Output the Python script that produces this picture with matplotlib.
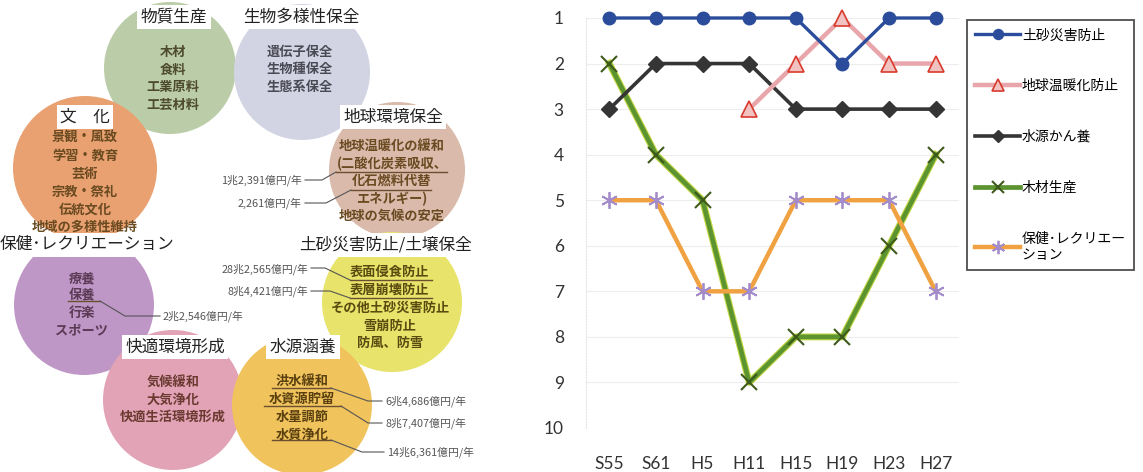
import numpy as np
import matplotlib
matplotlib.use("Agg")
import matplotlib.pyplot as plt
from matplotlib.patches import Circle

plt.rcParams["font.family"] = ["Noto Sans CJK JP", "DejaVu Sans"]

# ---- left diagram: forest functions ----
func_titles = ["物質生産", "生物多様性保全", "文　化", "地球環境保全",
               "保健･レクリエーション", "土砂災害防止/土壌保全", "快適環境形成", "水源涵養"]
func_items = [
    ["木材", "食料", "工業原料", "工芸材料"],
    ["遺伝子保全", "生物種保全", "生態系保全"],
    ["景観・風致", "学習・教育", "芸術", "宗教・祭礼", "伝統文化", "地域の多様性維持"],
    ["地球温暖化の緩和", "(二酸化炭素吸収、", "化石燃料代替", "エネルギー)", "地球の気候の安定"],
    ["療養", "保養", "行楽", "スポーツ"],
    ["表面侵食防止", "表層崩壊防止", "その他土砂災害防止", "雪崩防止", "防風、防雪"],
    ["気候緩和", "大気浄化", "快適生活環境形成"],
    ["洪水緩和", "水資源貯留", "水量調節", "水質浄化"],
]
values = ["1兆2,391億円/年", "2,261億円/年", "28兆2,565億円/年", "8兆4,421億円/年",
          "2兆2,546億円/年", "6兆4,686億円/年", "8兆7,407億円/年", "14兆6,361億円/年"]

# ---- right chart: ranking ----
years = ["S55", "S61", "H5", "H11", "H15", "H19", "H23", "H27"]
series_names = ["土砂災害防止", "地球温暖化防止", "水源かん養", "木材生産", "保健･レクリエー\nション"]
rank_sabo = [1, 1, 1, 1, 1, 2, 1, 1]
rank_ondanka = [np.nan, np.nan, np.nan, 3, 2, 1, 2, 2]
rank_suigen = [3, 2, 2, 2, 3, 3, 3, 3]
rank_mokuzai = [2, 4, 5, 9, 8, 8, 6, 4]
rank_hoken = [5, 5, 7, 7, 5, 5, 5, 7]

fig = plt.figure(figsize=(11.43, 4.72), dpi=100)

# left panel in pixel coordinates
ax0 = fig.add_axes([0, 0, 480 / 1143, 1])
ax0.set_xlim(0, 480)
ax0.set_ylim(472, 0)
ax0.axis("off")

circle_xy = [(170, 68), (302, 72), (85, 168), (397, 170),
             (84, 305), (392, 302), (173, 400), (302, 405)]
circle_r = [66, 68, 72, 68, 70, 70, 70, 70]
circle_col = ["#BACDA8", "#D3D4E3", "#E9A171", "#D9BAAB",
              "#BE97C6", "#E8E36A", "#E2A3B6", "#F0C35C"]
draw_order = [0, 2, 1, 3, 4, 5, 6, 7]
for i in draw_order:
    ax0.add_patch(Circle(circle_xy[i], circle_r[i], color=circle_col[i], lw=0, zorder=1))

title_xy = [(174, 17), (301, 17), (85, 117), (393, 117),
            (87, 245), (385, 245), (175, 347), (303, 347)]
for t, (x, y) in zip(func_titles, title_xy):
    ax0.text(x, y, t, fontsize=12, ha="center", va="center", color="#222222", zorder=4,
             bbox=dict(boxstyle="square,pad=0.2", fc="white", ec="none"))

item_start = [(173, 52), (300, 52), (85, 138), (392, 146),
              (82, 278), (390, 272), (173, 382), (302, 381)]
item_step = [17.5, 17.5, 17.8, 17.5, 17.5, 17.8, 17.5, 17.8]
item_col = ["#4E4A2E", "#4A4A55", "#6A4A20", "#6A4A20",
            "#5A3A55", "#5A4A10", "#6A3A30", "#5A4010"]
for items, (x, y), s, c in zip(func_items, item_start, item_step, item_col):
    for k, it in enumerate(items):
        ax0.text(x, y + k * s, it, fontsize=9.5, fontweight="bold", ha="center",
                 va="center", color=c, zorder=4)

value_xy = [(302, 180), (302, 203), (308, 269), (308, 291),
            (163, 316), (385, 401), (385, 423), (387, 452)]
value_ha = ["right", "right", "right", "right", "left", "left", "left", "left"]
for v, (x, y), ha in zip(values, value_xy, value_ha):
    ax0.text(x, y, v, fontsize=7.8, ha=ha, va="center", color="#555555", zorder=4)

# underlines and leader lines
underlines = [((336, 447), 172), ((351, 431), 190), ((350, 432), 280), ((350, 432), 298),
              ((68, 100), 301), ((272, 331), 388), ((264, 341), 406), ((272, 331), 440)]
for (x0, x1), y in underlines:
    ax0.plot([x0, x1], [y, y], color="#6A5030", lw=1.0, zorder=5)
leaders = [[(305, 180), (322, 180), (336, 172)],
           [(305, 203), (326, 203), (351, 190)],
           [(311, 268), (325, 268), (350, 280)],
           [(311, 291), (330, 291), (350, 298)],
           [(100, 301), (125, 316), (160, 316)],
           [(331, 388), (368, 401), (382, 401)],
           [(341, 406), (368, 423), (382, 423)],
           [(331, 440), (362, 452), (384, 452)]]
for pts in leaders:
    xs, ys = zip(*pts)
    ax0.plot(xs, ys, color="#555555", lw=0.8, zorder=5)

# ---- ranking chart ----
ax = fig.add_axes([586 / 1143, 1 - 428 / 472, (959 - 586) / 1143, (428 - 18) / 472])
x = np.arange(len(years))

ax.plot(x, rank_sabo, color="#2B4C9B", lw=2.4, marker="o", ms=9,
        mfc="#2B4C9B", mec="#2B4C9B", clip_on=False, zorder=6, label=series_names[0])
ax.plot(x, rank_ondanka, color="#E8A6AA", lw=3.2, marker="^", ms=11,
        mfc="#F2C2C0", mec="#D93A2E", mew=1.2, clip_on=False, zorder=5, label=series_names[1])
ax.plot(x, rank_suigen, color="#353535", lw=2.6, marker="D", ms=8,
        mfc="#353535", mec="#353535", clip_on=False, zorder=4, label=series_names[2])
ax.plot(x, rank_mokuzai, color="#C9D94A", lw=5, zorder=2, clip_on=False)
ax.plot(x, rank_mokuzai, color="#5C9430", lw=3.4, marker="x", ms=11, mew=1.5,
        mec="#3E5A1A", clip_on=False, zorder=3, label=series_names[3])
ax.plot(x, rank_hoken, color="#F0A242", lw=3.2, marker=(6, 2, 0), ms=12, mew=1.3,
        mec="#A48CCB", clip_on=False, zorder=3, label=series_names[4])

ax.set_xlim(-0.5, len(years) - 0.5)
ax.set_ylim(10, 1)
ax.set_yticks(range(1, 11))
ax.set_xticks(x)
ax.set_xticklabels(years)
ax.tick_params(length=0, labelsize=12.5, colors="#333333")
ax.tick_params(axis="y", pad=16)
ax.tick_params(axis="x", pad=20)
for lab in ax.get_xticklabels() + ax.get_yticklabels():
    lab.set_family(["Lato", "DejaVu Sans"])
ax.grid(axis="y", color="#EDEDED", lw=0.8)
for sp in ax.spines.values():
    sp.set_visible(False)
ax.spines["left"].set_visible(True)
ax.spines["left"].set_color("#E4E4E4")
ax.spines["left"].set_linestyle(":")

leg = fig.legend(loc="upper left", bbox_to_anchor=(967 / 1143, 1 - 20 / 472),
                 fontsize=10, frameon=True, fancybox=False, edgecolor="#222222",
                 handlelength=3.2, handletextpad=0.15, labelspacing=2.65,
                 borderpad=0.6, numpoints=1, borderaxespad=0, markerscale=0.8)
leg.get_frame().set_linewidth(1.3)

fig.savefig("out.png", dpi=100)
